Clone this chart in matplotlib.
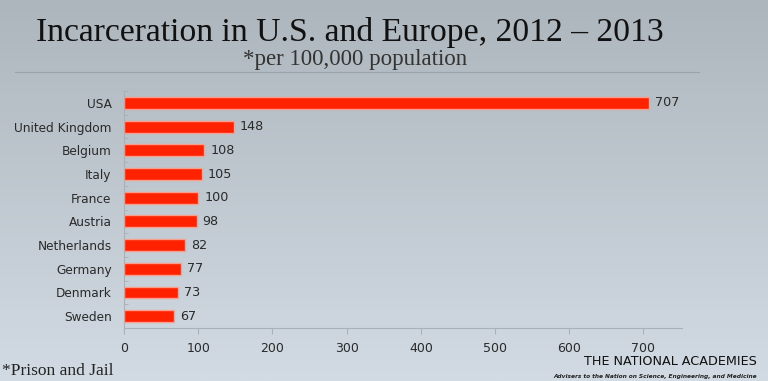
import matplotlib.pyplot as plt
import numpy as np

countries = ['USA', 'United Kingdom', 'Belgium', 'Italy', 'France',
             'Austria', 'Netherlands', 'Germany', 'Denmark', 'Sweden']
rates = [707, 148, 108, 105, 100, 98, 82, 77, 73, 67]
xticks = [0, 100, 200, 300, 400, 500, 600, 700]

fig = plt.figure(figsize=(7.68, 3.81), dpi=100)

# background gradient
bg = fig.add_axes([0, 0, 1, 1], zorder=-10)
grad = np.linspace(0, 1, 256).reshape(-1, 1)
top = np.array([0xad, 0xb5, 0xbd]) / 255
bot = np.array([0xd2, 0xdb, 0xe3]) / 255
img = top + (bot - top) * grad[:, :, None]
bg.imshow(img, aspect='auto', extent=[0, 1, 0, 1])
bg.axis('off')

ax = fig.add_axes([0.1615, 0.139, 0.7265, 0.622])
ax.set_facecolor('none')
ypos = np.arange(len(countries))
ax.barh(ypos, rates, height=0.5, color='#ff2200', edgecolor='#f7a090', linewidth=1)
ax.set_ylim(len(countries) - 0.5, -0.5)
ax.set_xlim(0, 752)
ax.set_yticks(ypos)
ax.set_yticklabels(countries, fontsize=8.7, color='#2a2a2a')
ax.set_yticks(np.arange(len(countries) + 1) - 0.5, minor=True)
ax.tick_params(axis='y', which='major', length=0, pad=9)
ax.tick_params(axis='y', which='minor', length=3, color='#a8b0b8', direction='in')
ax.set_xticks(xticks)
ax.set_xticklabels([str(t) for t in xticks], fontsize=9, color='#2a2a2a')
ax.tick_params(axis='x', length=4, color='#a8b0b8', pad=6)
for s in ['top', 'right']:
    ax.spines[s].set_visible(False)
for s in ['left', 'bottom']:
    ax.spines[s].set_color('#a8b0b8')

for y, v in zip(ypos, rates):
    ax.text(v + 8, y, str(v), va='center', ha='left', fontsize=9.2, color='#2a2a2a')

fig.text(0.456, 0.915, 'Incarceration in U.S. and Europe, 2012 – 2013',
         ha='center', va='center', fontsize=24.2, family='Liberation Serif', color='#111111')
fig.text(0.462, 0.845, '*per 100,000 population', ha='center', va='center',
         fontsize=16.5, family='Liberation Serif', color='#333333')
fig.add_artist(plt.Line2D([0.02, 0.91], [0.81, 0.81], color='#9aa2aa', lw=0.8))

fig.text(0.003, 0.027, '*Prison and Jail', ha='left', va='center',
         fontsize=12.5, family='Liberation Serif', color='#222222')
fig.text(0.986, 0.05, 'THE NATIONAL ACADEMIES', ha='right', va='center',
         fontsize=9.2, family='Liberation Sans Narrow', color='#111111')
fig.text(0.986, 0.013, 'Advisers to the Nation on Science, Engineering, and Medicine',
         ha='right', va='center', fontsize=4.2, style='italic', weight='bold',
         family='Liberation Sans Narrow', color='#222222')

fig.savefig('out.png', dpi=100)
